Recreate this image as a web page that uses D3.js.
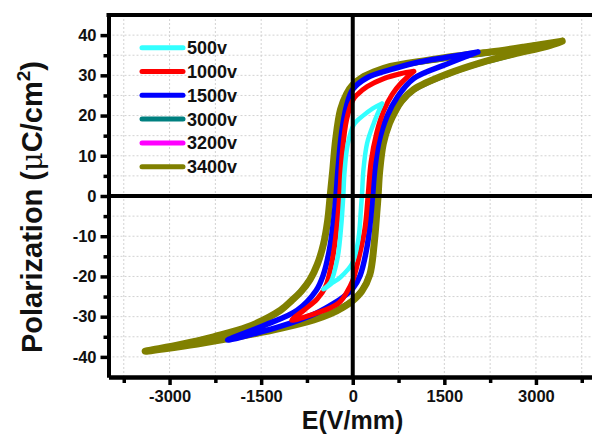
<!DOCTYPE html>
<html><head><meta charset="utf-8">
<script src="https://cdn.jsdelivr.net/npm/d3@7"></script>
<style>body{margin:0;background:#fff}svg{display:block}</style>
</head><body><svg id="c" width="592" height="434"></svg>
<script>
const seriesNames = ["500v","1000v","1500v","3000v","3200v","3400v"];
const seriesColors = ["#33ffff","#ff0000","#0000ff","#008080","#ff00ff","#808000"];
// each loop: tip(+) -> upper branch -> tip(-) -> lower branch -> tip(+)  [E (V/mm), P (uC/cm2)]
const loop500 = [[480,23],[330,21.8],[180,20.1],[16,17.7],[-80,13],[-135,6],[-155,0],[-190,-7.6],[-250,-15.5],[-365,-21.5],[-480,-23.2],
  [-350,-21.8],[-201,-20.2],[-10,-16.8],[90,-11],[135,-3],[150,0],[175,6.5],[235,13.1],[344,18.1],[480,23]];
const loop1000 = [[1000,31],[780,30.4],[507,29.2],[235,27.2],[72,25.2],[0,23.8],[-100,19],[-170,11],[-215,0],[-260,-7.6],[-330,-15.5],[-447,-22.6],[-583,-25.6],[-800,-28.4],[-1000,-30.9],
  [-692,-29.6],[-365,-27.8],[-201,-26.2],[-100,-24],[0,-21],[98,-15.5],[200,-8],[250,0],[300,8.5],[390,15.6],[507,21.2],[644,25.2],[800,28.2],[1000,31]];
const loop1500 = [[2050,35.8],[1544,34.5],[998,33.0],[617,31.4],[235,29.4],[0,26.5],[-100,22.5],[-180,16],[-240,7],[-275,0],[-320,-7],[-390,-14],[-480,-19.5],[-600,-23.5],[-910,-28.4],[-1456,-32.2],[-2050,-35.8],
  [-1456,-33.6],[-1019,-31.6],[-583,-29],[-311,-26.7],[-147,-25],[0,-23],[120,-19.8],[230,-13],[290,-6],[325,0],[360,6.5],[430,13.5],[560,19.8],[726,24.5],[998,29.2],[1544,32.8],[2050,35.8]];
const loop3000 = [[3000,37.6],[2250,35.6],[1160,33.4],[620,32],[340,30.5],[150,29],[0,27.2],[-100,25],[-200,21.3],[-280,14],[-330,6],[-365,0],[-405,-6],[-475,-12],[-575,-17],[-700,-20.6],[-850,-23.6],[-1000,-25.9],[-1180,-28.3],[-1730,-32.6],[-2280,-35],[-3000,-37.6],
  [-2546,-36.6],[-1730,-34.4],[-1180,-32.6],[-640,-30.6],[-365,-29.1],[-150,-27.4],[0,-25.8],[150,-23.4],[280,-19.3],[350,-12],[392,-4],[410,0],[436,6],[496,13],[596,18],[700,21],[800,23.4],[1000,26.3],[1540,30.1],[2090,33],[2640,35.2],[3000,37.6]];
const loop3200 = [[3200,38.0],[2800,36.9],[2250,35.7],[1160,33.5],[620,32.1],[340,30.7],[150,29.2],[0,27.4],[-100,25.2],[-200,21.4],[-280,14],[-330,6],[-367,0],[-408,-6],[-478,-12],[-578,-17],[-700,-20.7],[-850,-23.7],[-1000,-25.9],[-1180,-28.4],[-1730,-32.7],[-2280,-35],[-2800,-36.9],[-3200,-38.0],
  [-2546,-36.7],[-1730,-34.5],[-1180,-32.8],[-640,-30.7],[-365,-29.2],[-150,-27.5],[0,-25.9],[150,-23.5],[280,-19.4],[350,-12],[394,-4],[413,0],[438,6],[498,13],[598,18],[700,21.1],[800,23.5],[1000,26.4],[1540,30.2],[2090,33.1],[2640,35.3],[3200,38.0]];
const loop3400 = [[3430,38.5],[2800,37.0],[2253,35.8],[1700,34.8],[1162,33.6],[617,32.2],[344,30.8],[150,29.4],[0,27.6],[-100,25.4],[-200,21.5],[-280,14],[-330,6],[-370,0],[-410,-6],[-480,-12],[-580,-17],[-700,-20.8],[-850,-23.8],[-1000,-26],[-1183,-28.4],[-1728,-32.6],[-2279,-35.0],[-2819,-36.9],[-3400,-38.6],
  [-2546,-36.8],[-1728,-34.6],[-1183,-32.9],[-638,-30.8],[-365,-29.3],[-150,-27.6],[0,-26],[150,-23.6],[280,-19.5],[350,-12],[395,-4],[415,0],[440,6],[500,13],[600,18],[700,21.2],[800,23.6],[1000,26.5],[1544,30.3],[2090,33.1],[2634,35.3],[3180,37.2],[3430,38.5]];
const loops = [loop500, loop1000, loop1500, loop3000, loop3200, loop3400];
const xTicks = [-3000,-1500,0,1500,3000];
const xMinor = [-3750,-2250,-750,750,2250,3750];
const yTicks = [-40,-30,-20,-10,0,10,20,30,40];
const yMinor = [-35,-25,-15,-5,5,15,25,35];

const svg = d3.select("#c");
const x = d3.scaleLinear([-4000,4000],[108.5,597]);
const y = d3.scaleLinear([-45,45],[377,15]);
const FONT = "Arial, 'Liberation Sans', Helvetica, sans-serif";

// grid
const grid = svg.append("g").attr("stroke","#d2d2d2").attr("stroke-width",1).attr("stroke-dasharray","2,2");
xTicks.concat(xMinor).forEach(v=>grid.append("line").attr("x1",x(v)).attr("x2",x(v)).attr("y1",15).attr("y2",377));
yTicks.concat(yMinor).forEach(v=>grid.append("line").attr("y1",y(v)).attr("y2",y(v)).attr("x1",108.5).attr("x2",597));

// loops
const line = d3.line().x(d=>x(d[0])).y(d=>y(d[1])).curve(d3.curveCatmullRom.alpha(0.5));
const order = [3,4,5,2,1,0];
const widths = [4.5,5,5.5,5,5,7];
order.forEach(i=>{
  svg.append("path").attr("d",line(loops[i])).attr("fill","none")
    .attr("stroke",seriesColors[i]).attr("stroke-width",widths[i])
    .attr("stroke-linejoin","round").attr("stroke-linecap","round");
});

// zero lines
svg.append("line").attr("x1",x(0)).attr("x2",x(0)).attr("y1",15).attr("y2",377).attr("stroke","#000").attr("stroke-width",4);
svg.append("line").attr("x1",108.5).attr("x2",597).attr("y1",y(0)).attr("y2",y(0)).attr("stroke","#000").attr("stroke-width",4);
// top border
svg.append("line").attr("x1",106.5).attr("x2",597).attr("y1",15).attr("y2",15).attr("stroke","#000").attr("stroke-width",4);

// axes
const fmt = d=>String(d);
const gx = svg.append("g").attr("transform","translate(0,377)").call(d3.axisBottom(x).tickValues(xTicks).tickSize(8).tickSizeOuter(0).tickPadding(5).tickFormat(fmt));
const gxm = svg.append("g").attr("transform","translate(0,377)").call(d3.axisBottom(x).tickValues(xMinor).tickSize(6).tickSizeOuter(0).tickFormat(""));
const gy = svg.append("g").attr("transform","translate(108.5,0)").call(d3.axisLeft(y).tickValues(yTicks).tickSize(8).tickSizeOuter(0).tickPadding(4).tickFormat(fmt));
const gym = svg.append("g").attr("transform","translate(108.5,0)").call(d3.axisLeft(y).tickValues(yMinor).tickSize(5).tickSizeOuter(0).tickFormat(""));
[gx,gxm,gy,gym].forEach(g=>{
  g.select(".domain").attr("stroke","#000").attr("stroke-width",4);
  g.selectAll(".tick line").attr("stroke","#000").attr("stroke-width",3.5);
  g.selectAll(".tick text").attr("fill","#111").style("font-family",FONT).style("font-weight","bold").style("font-size","16.5px");
});

// axis titles
svg.append("text").attr("x",352.5).attr("y",428.5).attr("text-anchor","middle")
  .style("font-family",FONT).style("font-weight","bold").style("font-size","25px").attr("fill","#111").text("E(V/mm)");
const yt = svg.append("text").attr("transform","translate(42,207) rotate(-90)").attr("text-anchor","middle")
  .style("font-family",FONT).style("font-weight","bold").style("font-size","29px").attr("fill","#111");
yt.append("tspan").text("Polarization (");
yt.append("tspan").text("\u03bc").style("font-family","'DejaVu Serif', serif").style("font-weight","normal");
yt.append("tspan").text("C/cm");
yt.append("tspan").text("2").attr("dy",-12).style("font-size","19px");
yt.append("tspan").text(")").attr("dy",12);

// legend
const lg = svg.append("g");
seriesNames.forEach((n,i)=>{
  const yy = 47.7 + i*23.8;
  lg.append("line").attr("x1",142).attr("x2",183).attr("y1",yy).attr("y2",yy)
    .attr("stroke",seriesColors[i]).attr("stroke-width",5).attr("stroke-linecap","round");
  lg.append("text").attr("x",187).attr("y",yy).attr("dy","0.36em")
    .style("font-family",FONT).style("font-weight","bold").style("font-size","18px").attr("fill","#111").text(n);
});
</script></body></html>
